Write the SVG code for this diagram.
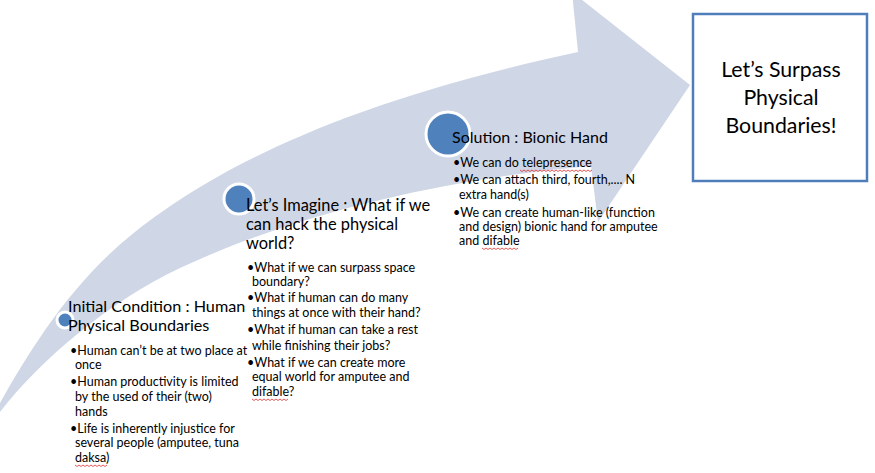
<svg xmlns="http://www.w3.org/2000/svg" width="875" height="473" viewBox="0 0 875 473">
  <style>
    .head { font-family: Lato, "Liberation Sans", sans-serif; fill: #000; }
    .blt { font-family: Lato, "Liberation Sans", sans-serif; font-size: 12.5px; fill: #000; }
    .dot { fill: #4f81bd; stroke: #fff; stroke-width: 3; }
    .sq { fill: none; stroke: #e03030; stroke-width: 0.8; }
  </style>
  <rect width="875" height="473" fill="#fff"/>
  <g id="connectors">
    <path id="arrow" fill="#cfd6e6" d="M 0,403 C 30,350 70,285 130,236 C 205,175 330,105 578,52 L 572,-8 L 690,85 L 598,222 L 591,166 C 450,178 300,212 180,268 C 110,301 40,360 0,412 Z"/>
  </g>
  <g id="step1">
    <circle class="dot" cx="65" cy="320" r="8"/>
    <text class="head" font-size="16.2" x="68" y="312">Initial Condition : Human</text>
    <text class="head" font-size="16.2" x="68" y="331">Physical Boundaries</text>
    <text class="blt" x="70" y="355">•Human can’t be at two place at</text>
    <text class="blt" x="75" y="369">once</text>
    <text class="blt" x="70" y="386">•Human productivity is limited</text>
    <text class="blt" x="75" y="401">by the used of their (two)</text>
    <text class="blt" x="75" y="416">hands</text>
    <text class="blt" x="70" y="433">•Life is inherently injustice for</text>
    <text class="blt" x="75" y="447">several people (amputee,  tuna</text>
    <text class="blt" x="75" y="462">daksa)</text>
    <path class="sq" d="M75,465 l2,1.5 l2,-1.5 l2,1.5 l2,-1.5 l2,1.5 l2,-1.5 l2,1.5 l2,-1.5 l2,1.5 l2,-1.5 l2,1.5 l2,-1.5 l2,1.5 l2,-1.5 l2,1.5 l2,-1.5"/>
  </g>
  <g id="step2">
    <circle class="dot" cx="239" cy="199" r="15"/>
    <text class="head" font-size="16.4" x="246" y="211">Let’s Imagine : What if we</text>
    <text class="head" font-size="16.4" x="246" y="230">can hack the physical</text>
    <text class="head" font-size="16.4" x="246" y="249">world?</text>
    <text class="blt" x="247" y="272">•What if we can surpass space</text>
    <text class="blt" x="252" y="286">boundary?</text>
    <text class="blt" x="247" y="302">•What if human can do many</text>
    <text class="blt" x="252" y="317">things at once with their hand?</text>
    <text class="blt" x="247" y="334">•What if human can take a rest</text>
    <text class="blt" x="252" y="350">while finishing their jobs?</text>
    <text class="blt" x="247" y="367">•What if we can create more</text>
    <text class="blt" x="252" y="381">equal world for amputee  and</text>
    <text class="blt" x="252" y="396">difable?</text>
    <path class="sq" d="M252,399 l2,1.5 l2,-1.5 l2,1.5 l2,-1.5 l2,1.5 l2,-1.5 l2,1.5 l2,-1.5 l2,1.5 l2,-1.5 l2,1.5 l2,-1.5 l2,1.5 l2,-1.5 l2,1.5 l2,-1.5 l2,1.5 l2,-1.5"/>
  </g>
  <g id="step3">
    <circle class="dot" cx="448" cy="134" r="22"/>
    <text class="head" font-size="16" x="452" y="143">Solution : Bionic Hand</text>
    <text class="blt" x="453" y="167">•We can do telepresence</text>
    <text class="blt" x="453" y="184">•We can attach third, fourth,....  N</text>
    <text class="blt" x="459" y="199">extra hand(s)</text>
    <text class="blt" x="453" y="217">•We can create human-like (function</text>
    <text class="blt" x="459" y="231">and design) bionic hand for amputee</text>
    <text class="blt" x="459" y="245">and difable</text>
    <path class="sq" d="M520,170 l2,1.5 l2,-1.5 l2,1.5 l2,-1.5 l2,1.5 l2,-1.5 l2,1.5 l2,-1.5 l2,1.5 l2,-1.5 l2,1.5 l2,-1.5 l2,1.5 l2,-1.5 l2,1.5 l2,-1.5 l2,1.5 l2,-1.5 l2,1.5 l2,-1.5 l2,1.5 l2,-1.5 l2,1.5 l2,-1.5 l2,1.5 l2,-1.5 l2,1.5 l2,-1.5 l2,1.5 l2,-1.5 l2,1.5 l2,-1.5 l2,1.5 l2,-1.5 l2,1.5 l2,-1.5"/>
    <path class="sq" d="M482,248 l2,1.5 l2,-1.5 l2,1.5 l2,-1.5 l2,1.5 l2,-1.5 l2,1.5 l2,-1.5 l2,1.5 l2,-1.5 l2,1.5 l2,-1.5 l2,1.5 l2,-1.5 l2,1.5 l2,-1.5 l2,1.5 l2,-1.5"/>
  </g>
  <g id="goal">
    <rect x="693" y="14" width="174" height="167" fill="#fff" stroke="#4f7dba" stroke-width="2.5"/>
    <text class="head" font-size="21.3" text-anchor="middle" x="781" y="77">Let’s Surpass</text>
    <text class="head" font-size="21.3" text-anchor="middle" x="781" y="105">Physical</text>
    <text class="head" font-size="21.3" text-anchor="middle" x="781" y="133">Boundaries!</text>
  </g>
</svg>
